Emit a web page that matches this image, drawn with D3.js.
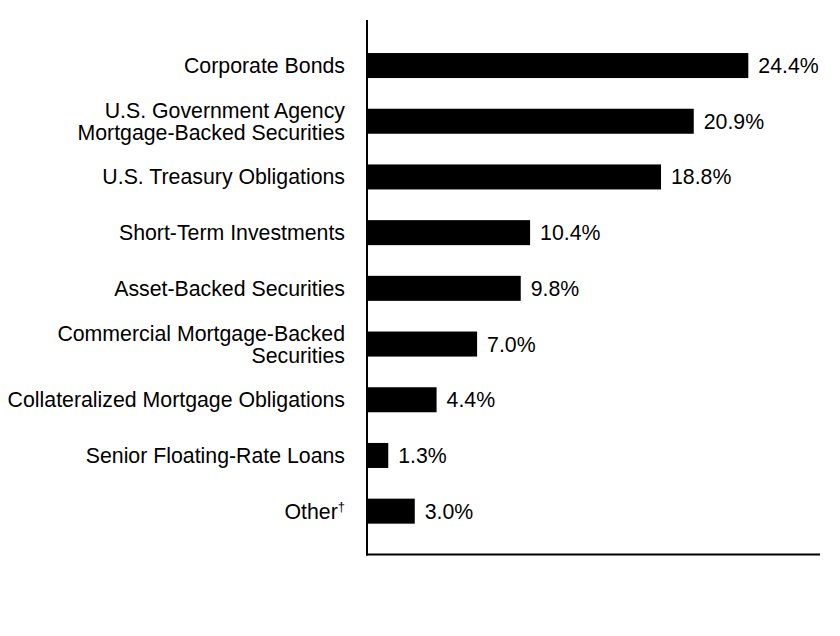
<!DOCTYPE html>
<html>
<head>
<meta charset="utf-8">
<script src="https://cdn.jsdelivr.net/npm/d3@7"></script>
<style>
  body { margin: 0; background: #fff; }
  text { font-family: "Liberation Sans", Arial, sans-serif; }
</style>
</head>
<body>
<div id="chart"></div>
<script>
// categories (multi-line labels split into lines)
const categories = [
    ["Corporate Bonds"],
    ["U.S. Government Agency", "Mortgage-Backed Securities"],
    ["U.S. Treasury Obligations"],
    ["Short-Term Investments"],
    ["Asset-Backed Securities"],
    ["Commercial Mortgage-Backed", "Securities"],
    ["Collateralized Mortgage Obligations"],
    ["Senior Floating-Rate Loans"],
    ["Other"]
];
// percent of total
const values = [24.4, 20.9, 18.8, 10.4, 9.8, 7.0, 4.4, 1.3, 3.0];
// which labels get the dagger footnote mark
const footnoted = [false, false, false, false, false, false, false, false, true];

const width = 840;
const height = 636;
const fontSize = 21.3;

const svg = d3.select("#chart")
.append("svg")
.attr("width", width)
.attr("height", height);

// x runs from the axis to the right end of the bottom line
const x = d3.scaleLinear()
.domain([0, 29])
.range([368, 820]);

const y = d3.scaleBand()
.domain(d3.range(values.length))
.range([22.4, 554.3])
.paddingInner(0.551)
.paddingOuter(0.55);

// bars
svg.selectAll("rect.bar")
.data(values)
.enter()
.append("rect")
.attr("class", "bar")
.attr("x", x(0))
.attr("y", (d, i) => y(i))
.attr("width", d => x(d) - x(0))
.attr("height", y.bandwidth())
.attr("fill", "#000");

// value labels
svg.selectAll("text.value")
.data(values)
.enter()
.append("text")
.attr("class", "value")
.attr("x", d => x(d) + 10)
.attr("y", (d, i) => y(i) + y.bandwidth() / 2)
.attr("dy", "0.35em")
.attr("font-size", fontSize)
.attr("fill", "#000")
.text(d => d3.format(".1f")(d) + "%");

// category labels, right aligned left of the axis
const lineGap = 22;
const labels = svg.selectAll("text.cat")
.data(categories)
.enter()
.append("text")
.attr("class", "cat")
.attr("text-anchor", "end")
.attr("font-size", fontSize)
.attr("fill", "#000");

labels.each(function(lines, i) {
    const t = d3.select(this);
    const cy = y(i) + y.bandwidth() / 2;
    const first = cy - (lines.length - 1) * lineGap / 2;
    lines.forEach((line, j) => {
        const ts = t.append("tspan")
        .attr("x", 345)
        .attr("y", first + j * lineGap)
        .attr("dy", "0.35em")
        .text(line);
        if (footnoted[i] && j === lines.length - 1) {
            ts.append("tspan")
            .attr("font-size", 13)
            .attr("dy", "-0.6em")
            .text("\u2020");
        }
    });
});

// axis lines
svg.append("line")
.attr("x1", x(0) - 1)
.attr("x2", x(0) - 1)
.attr("y1", 20)
.attr("y2", 555.5)
.attr("stroke", "#000")
.attr("stroke-width", 2);

svg.append("line")
.attr("x1", x(0) - 2)
.attr("x2", x.range()[1])
.attr("y1", 554.5)
.attr("y2", 554.5)
.attr("stroke", "#000")
.attr("stroke-width", 2);
</script>
</body>
</html>
